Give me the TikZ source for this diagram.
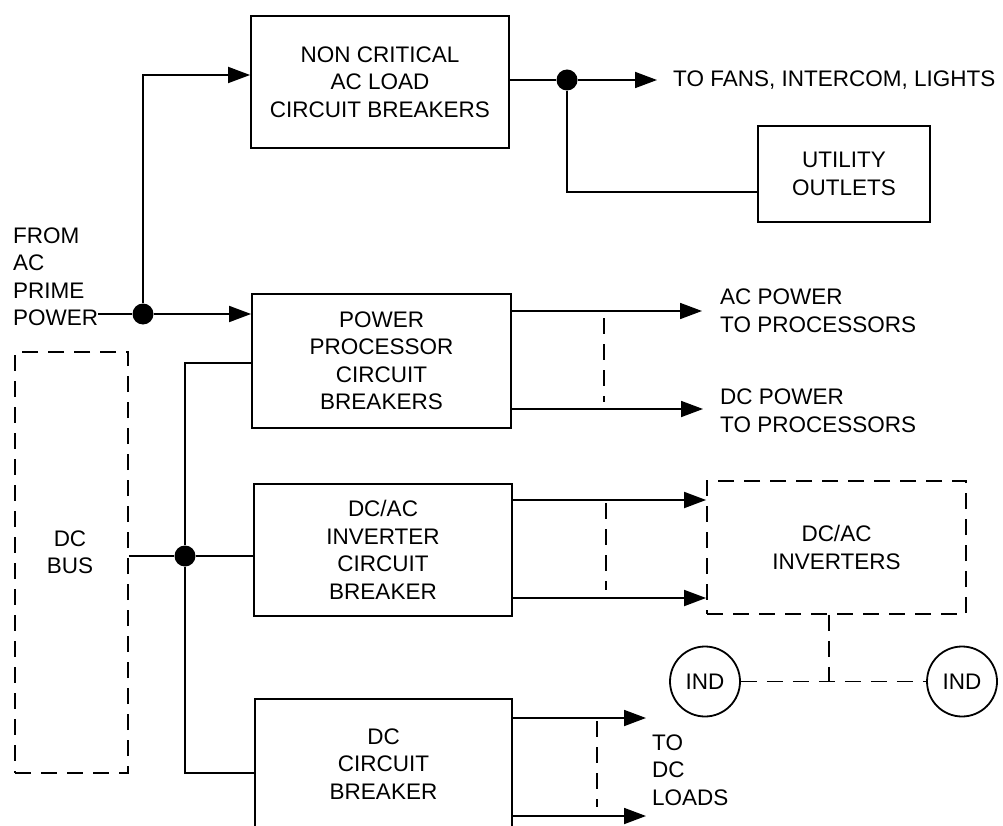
\documentclass[tikz,border=0pt]{standalone}
\usepackage{fontspec}
\setmainfont{Liberation Sans}
\usetikzlibrary{arrows.meta}
\tikzset{
 base/.style={font=\fontsize{22.5}{27.5}\selectfont, align=center, inner sep=0pt},
 blk/.style={base, draw, line width=1.8pt},
 dbox/.style={base, draw, line width=1.8pt, dash pattern=on 16pt off 10pt},
 wire/.style={line width=1.8pt},
 arr/.style={wire, -{Triangle[length=22pt,width=16pt]}},
 dwire/.style={line width=1.8pt, dash pattern=on 16pt off 10pt},
 dot/.style={circle, fill, inner sep=0pt, minimum size=21pt},
 lbl/.style={base, align=left, anchor=west},
 ind/.style={base, circle, draw, line width=1.8pt, minimum size=70pt},
}
\begin{document}
\begin{tikzpicture}[x=1pt,y=-1pt]
\useasboundingbox (0,0) rectangle (1003,826);
\clip (0,0) rectangle (1003,826);
\fill[white] (0,0) rectangle (1003,826);

% boxes
\node[blk, minimum width=258pt, minimum height=132pt] (nc) at (380,82) {NON CRITICAL\\AC LOAD\\CIRCUIT BREAKERS};
\node[blk, minimum width=172pt, minimum height=96pt] (uo) at (844,174) {UTILITY\\OUTLETS};
\node[blk, minimum width=259pt, minimum height=134pt] (pp) at (381.5,361) {POWER\\PROCESSOR\\CIRCUIT\\BREAKERS};
\node[blk, minimum width=258pt, minimum height=132pt] (inv) at (383,550) {DC/AC\\INVERTER\\CIRCUIT\\BREAKER};
\node[blk, minimum width=257pt, minimum height=130pt] (dcb) at (383.5,764) {DC\\CIRCUIT\\BREAKER};
\node[dbox, minimum width=113pt, minimum height=421pt] (bus) at (71.5,562.5) {};
\node[base] (bustxt) at (70,552) {DC\\BUS};
\node[dbox, minimum width=259pt, minimum height=133pt] (invs) at (836.5,547.5) {DC/AC\\INVERTERS};
\node[ind] (ind1) at (705,681.5) {IND};
\node[ind] (ind2) at (962,681.5) {IND};

% labels
\node[lbl] (src) at (13,277) {FROM\\AC\\PRIME\\POWER};
\node[lbl] (fans) at (673,80) {TO FANS, INTERCOM, LIGHTS};
\node[lbl] (acl) at (720,311) {AC POWER\\TO PROCESSORS};
\node[lbl] (dcl) at (720,411) {DC POWER\\TO PROCESSORS};
\node[lbl] (ldl) at (652,770) {TO\\DC\\LOADS};

% junctions
\node[dot] (jA) at (143,314) {};
\node[dot] (jB) at (567,80) {};
\node[dot] (jC) at (185,556) {};

% AC prime power
\draw[wire] (src.east |- jA) -- (jA);
\draw[arr] (jA) -- (pp.west |- jA);
\draw[arr] (jA) |- ([yshift=7pt]nc.west);

% non critical outputs
\draw[wire] (nc.east |- jB) -- (jB);
\draw[arr] (jB) -- ([xshift=-16pt]fans.west);
\draw[wire] (jB) |- ([yshift=-18pt]uo.west);

% power processor outputs
\coordinate (ppA) at ([yshift=50pt]pp.east);
\coordinate (ppD) at ([yshift=-48pt]pp.east);
\coordinate (acT) at (702,311);
\coordinate (dcT) at (703,409);
\draw[arr] (ppA) -- (acT);
\draw[arr] (ppD) -- (dcT);
\coordinate (pd1) at (604,318);
\coordinate (pd2) at (604,402);
\draw[dwire] (pd1) -- (pd2);

% DC bus
\draw[wire] (bus.east |- jC) -- (jC) -- (inv.west |- jC);
\draw[wire] ([yshift=-2pt]pp.west) -| (jC) |- ([yshift=-9pt]dcb.west);

% inverter breaker outputs
\coordinate (i1) at ([yshift=50pt]inv.east);
\coordinate (i2) at ([yshift=-48pt]inv.east);
\draw[arr] (i1) -- (i1 -| invs.west);
\draw[arr] (i2) -- (i2 -| invs.west);
\coordinate (id1) at (606,503);
\coordinate (id2) at (606,590);
\draw[dwire] (id1) -- (id2);

% inverters to indicators
\coordinate (k) at (829,681.5);
\draw[dwire] (k |- invs.south) -- (k);
\draw[dwire] (ind1.east) -- (ind2.west);

% DC breaker outputs
\coordinate (d1) at ([yshift=46pt]dcb.east);
\coordinate (d2) at ([yshift=-52pt]dcb.east);
\coordinate (t1) at (646,718);
\coordinate (t2) at (646,816);
\draw[arr] (d1) -- (t1);
\draw[arr] (d2) -- (t2);
\coordinate (dd1) at (597,721);
\coordinate (dd2) at (597,807);
\draw[dwire] (dd1) -- (dd2);
\end{tikzpicture}
\end{document}
